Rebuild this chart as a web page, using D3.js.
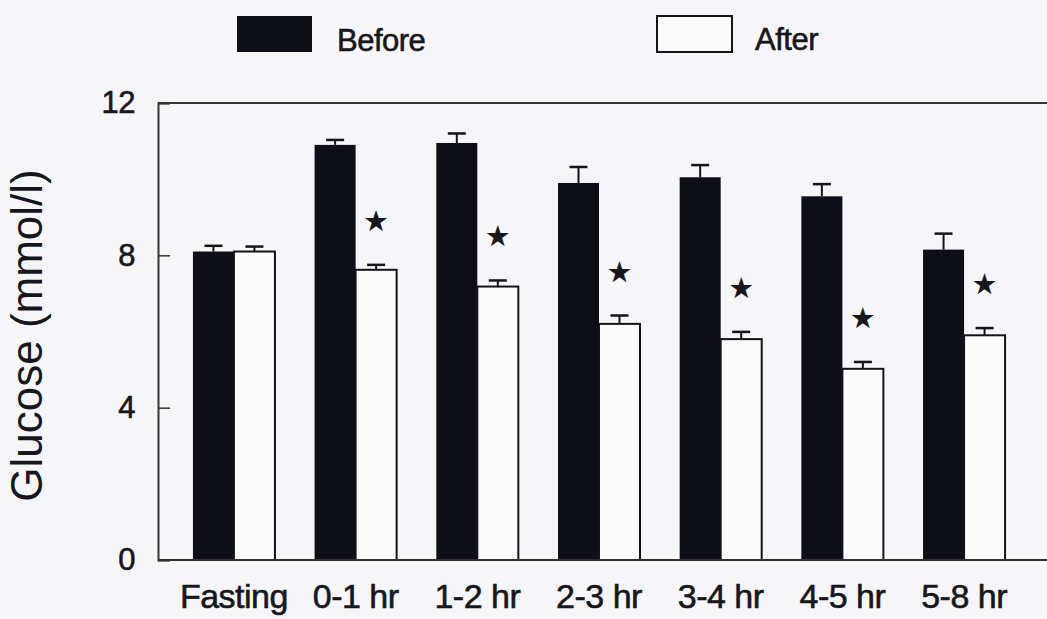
<!DOCTYPE html>
<html><head><meta charset="utf-8">
<script src="https://cdn.jsdelivr.net/npm/d3@7"></script>
<style>
html,body{margin:0;padding:0;background:#f6f6f8;}
svg{display:block;}
text{font-family:"Liberation Sans",Arial,sans-serif;fill:#16161c;}
text.lbl{stroke:#16161c;stroke-width:0.6px;letter-spacing:-0.5px;}
</style></head>
<body>
<svg id="chart" width="1047" height="619"></svg>
<script>
const categories = ["Fasting","0-1 hr","1-2 hr","2-3 hr","3-4 hr","4-5 hr","5-8 hr"];
const beforeMean = [8.1, 10.9, 10.95, 9.9, 10.05, 9.55, 8.15];
const beforeSE   = [0.15, 0.13, 0.25, 0.42, 0.32, 0.32, 0.42];
const afterMean  = [8.1, 7.62, 7.18, 6.2, 5.8, 5.02, 5.9];
const afterSE    = [0.13, 0.13, 0.16, 0.22, 0.19, 0.18, 0.19];
const significant = [false, true, true, true, true, true, true];
const yTicks = [0, 4, 8, 12];
const seriesNames = ["Before", "After"];
const yLabel = "Glucose (mmol/l)";

(function(){
const svg = d3.select("#chart");
const mLeft = 158, mRight = 1040, mTop = 103, mBottom = 560;
const ink = "#141418";

const x = d3.scaleBand().domain(categories).range([mLeft, mRight]).paddingInner(0.326).paddingOuter(0.287);
const xs = d3.scaleBand().domain(seriesNames).range([0, x.bandwidth()]).padding(0);
const y = d3.scaleLinear().domain([0, 12]).range([mBottom, mTop]);

const data = categories.map((c, i) => ({
  cat: c,
  vals: [
    {s: "Before", v: beforeMean[i], e: beforeSE[i]},
    {s: "After", v: afterMean[i], e: afterSE[i]}
  ],
  sig: significant[i]
}));

const g = svg.append("g").selectAll("g").data(data).join("g")
  .attr("transform", d => `translate(${x(d.cat)},0)`);
g.selectAll("rect").data(d => d.vals).join("rect")
  .attr("x", d => xs(d.s))
  .attr("y", d => y(d.v))
  .attr("width", xs.bandwidth())
  .attr("height", d => y(0) - y(d.v))
  .attr("fill", d => d.s === "Before" ? "#0e0e16" : "#fbfbfc")
  .attr("stroke", ink)
  .attr("stroke-width", d => d.s === "Before" ? 0 : 2);

g.selectAll("line.err").data(d => d.vals).join("line").attr("class", "err")
  .attr("x1", d => xs(d.s) + xs.bandwidth() / 2)
  .attr("x2", d => xs(d.s) + xs.bandwidth() / 2)
  .attr("y1", d => y(d.v))
  .attr("y2", d => y(d.v + d.e))
  .attr("stroke", ink).attr("stroke-width", 2);
g.selectAll("line.cap").data(d => d.vals).join("line").attr("class", "cap")
  .attr("x1", d => xs(d.s) + xs.bandwidth() / 2 - 9)
  .attr("x2", d => xs(d.s) + xs.bandwidth() / 2 + 9)
  .attr("y1", d => y(d.v + d.e))
  .attr("y2", d => y(d.v + d.e))
  .attr("stroke", ink).attr("stroke-width", 2.5);

g.filter(d => d.sig).append("text")
  .attr("x", xs("After") + xs.bandwidth() / 2)
  .attr("y", d => y(d.vals[1].v + d.vals[1].e) - 44)
  .attr("text-anchor", "middle")
  .attr("dominant-baseline", "central")
  .attr("font-size", 29)
  .style("font-family", "'DejaVu Sans',sans-serif")
  .text("★");

svg.append("line").attr("x1", mLeft).attr("x2", 1047).attr("y1", mTop).attr("y2", mTop)
  .attr("stroke", "#333").attr("stroke-width", 2);
svg.append("line").attr("x1", mLeft).attr("x2", 1047).attr("y1", mBottom).attr("y2", mBottom)
  .attr("stroke", "#333").attr("stroke-width", 2);

const yAxis = d3.axisLeft(y).tickValues(yTicks).tickSize(-12).tickPadding(23).tickFormat(d3.format("d"));
const ya = svg.append("g").attr("transform", `translate(${mLeft},0)`).call(yAxis);
ya.select(".domain").attr("stroke", "#333").attr("stroke-width", 2);
ya.selectAll(".tick line").attr("stroke", "#333").attr("stroke-width", 1.5);
ya.selectAll(".tick text").attr("class", "lbl").attr("font-size", 31).attr("fill", "#16161c")
  .style("font-family", "'Liberation Sans',Arial,sans-serif");

const xAxis = d3.axisBottom(x).tickSize(0).tickPadding(24);
const xa = svg.append("g").attr("transform", `translate(0,${mBottom})`).call(xAxis);
xa.select(".domain").remove();
xa.selectAll(".tick text").attr("class", "lbl").attr("font-size", 34).attr("fill", "#16161c")
  .style("font-family", "'Liberation Sans',Arial,sans-serif");

svg.append("text")
  .attr("transform", `translate(42,${(mTop + mBottom) / 2 + 4}) rotate(-90)`)
  .attr("text-anchor", "middle")
  .attr("font-size", 44)
  .text(yLabel);

const legend = [
  {name: seriesNames[0], rx: 237, tx: 337, ty: 51, fill: "#0e0e16", sw: 0},
  {name: seriesNames[1], rx: 657, tx: 755, ty: 50, fill: "#fbfbfc", sw: 2}
];
const lg = svg.append("g").selectAll("g").data(legend).join("g");
lg.append("rect").attr("x", d => d.rx).attr("y", 16).attr("width", 75).attr("height", 36)
  .attr("fill", d => d.fill).attr("stroke", ink).attr("stroke-width", d => d.sw);
lg.append("text").attr("class", "lbl").attr("x", d => d.tx).attr("y", d => d.ty).attr("font-size", 31).text(d => d.name);
})();
</script>
</body></html>
